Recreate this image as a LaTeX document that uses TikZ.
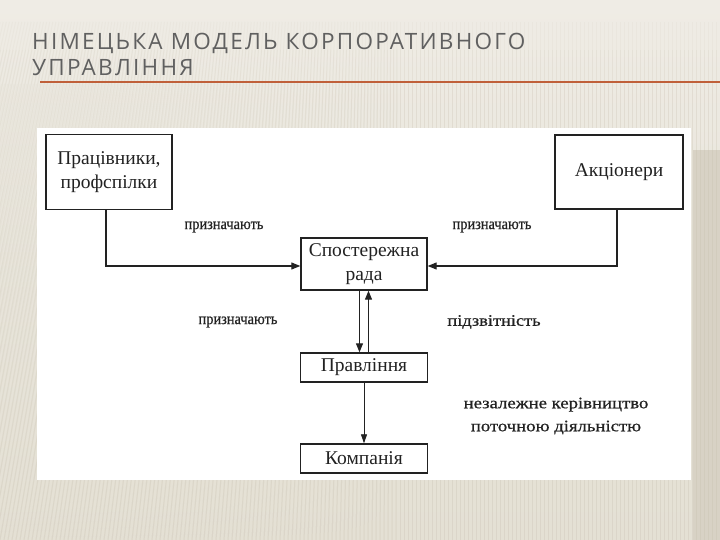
\documentclass[tikz,border=0pt]{standalone}
\usepackage{fontspec}
\setmainfont{Liberation Serif}
\newfontfamily\titlefont[LetterSpace=10]{Open Sans}
\newfontfamily\lblfont[FakeBold=0.6]{Liberation Serif}
\usetikzlibrary{arrows.meta}
\definecolor{bgpaper}{HTML}{E4E0D4}
\definecolor{bgtop}{HTML}{EFECE5}
\definecolor{stripecol}{HTML}{C9C2B0}
\definecolor{sideband}{HTML}{D8D2C5}
\definecolor{titlegray}{HTML}{606060}
\definecolor{rulecol}{HTML}{C0603A}
\definecolor{ink}{HTML}{222222}
\begin{document}
\begin{tikzpicture}[x=1pt,y=-1pt,
  box/.style={draw=ink, line width=1.4pt, fill=white, inner sep=0pt, align=center,
    font=\fontsize{19.5}{24}\selectfont, text=ink},
  lbl/.style={inner sep=0pt, font=\lblfont\fontsize{16}{23}\selectfont, text=ink, align=center},
  conn/.style={draw=ink, line width=1.1pt},
  arr/.style={conn, -{Triangle[length=9pt,width=7pt]}},
  thinarr/.style={draw=ink, line width=0.8pt, -{Triangle[length=9pt,width=6pt]}}
]
\useasboundingbox (0,0) rectangle (720,540);
% background
\shade[top color=bgtop, bottom color=bgpaper, middle color=bgpaper!60!bgtop] (0,0) rectangle (720,540);
\fill[sideband] (693,150) rectangle (720,540);
\foreach \x in {-120,-116,...,720} {
  \pgfmathsetmacro{\s}{max(0,90*(1-\x/400))}
  \draw[stripecol, opacity=0.1, line width=1pt] (\x,540) -- (\x+\s,22);
  \draw[stripecol, opacity=0.12, line width=1pt] (\x,540) -- (\x+0.95*\s,50);
  \draw[stripecol, opacity=0.1, line width=1pt] (\x,540) -- (\x+0.9*\s,84);
}
% title
\node[anchor=base west, inner sep=0pt, text=titlegray, font=\titlefont\fontsize{22.5}{28}\selectfont] (t1) at (32,50) {НІМЕЦЬКА МОДЕЛЬ КОРПОРАТИВНОГО};
\node[anchor=base west, inner sep=0pt, text=titlegray, font=\titlefont\fontsize{22.5}{28}\selectfont] (t2) at (32,76) {УПРАВЛІННЯ};
\coordinate (r1) at (40,82);
\coordinate (r2) at (720,82);
\draw[rulecol, line width=1.8pt] (r1) -- (r2);
% panel
\fill[white] (37,128) rectangle (691,480);
% boxes
\node[box, minimum width=126pt, minimum height=75pt] (prac) at (109,172) {Працівники,\\профспілки};
\node[box, minimum width=128pt, minimum height=74pt] (akc) at (619,172) {Акціонери};
\node[box, minimum width=126pt, minimum height=52pt] (sr) at (364,264) {Спостережна\\рада};
\node[box, minimum width=127pt, minimum height=29pt] (pr) at (364,367.5) {Правління};
\node[box, minimum width=127pt, minimum height=29pt] (komp) at (364,458.5) {Компанія};
% labels
\node[lbl] (l1) at (224,227) {\scalebox{0.9}[1]{призначають}};
\node[lbl] (l2) at (492,227) {\scalebox{0.9}[1]{призначають}};
\node[lbl] (l3) at (238,322) {\scalebox{0.9}[1]{призначають}};
\node[lbl] (l4) at (494,322) {\scalebox{1.15}[1]{підзвітність}};
\node[lbl] (l5) at (556,416) {\scalebox{1.17}[1]{незалежне керівництво}\\\scalebox{1.17}[1]{поточною діяльністю}};
% connectors
\coordinate (pc) at ([xshift=-3pt]prac.south);
\coordinate (ac) at ([xshift=-2pt]akc.south);
\draw[arr] (pc) |- ([yshift=-2pt]sr.west);
\draw[arr] (ac) |- ([yshift=-2pt]sr.east);
\draw[arr] ([xshift=-4.5pt]sr.south) -- ([xshift=-4.5pt]pr.north);
\draw[arr] ([xshift=4.5pt]pr.north) -- ([xshift=4.5pt]sr.south);
\draw[thinarr] (pr.south) -- (komp.north);
\end{tikzpicture}
\end{document}
